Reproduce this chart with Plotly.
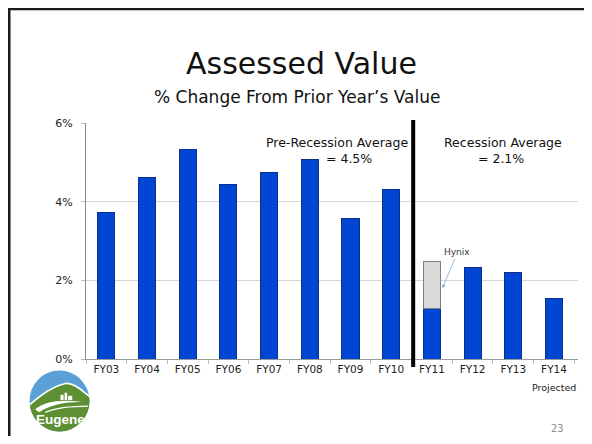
import base64
import plotly.graph_objects as go

# data
years = ["FY03", "FY04", "FY05", "FY06", "FY07", "FY08",
         "FY09", "FY10", "FY11", "FY12", "FY13", "FY14"]
pct_change = [3.73, 4.62, 5.33, 4.44, 4.73, 5.08, 3.58, 4.30, 1.28, 2.33, 2.20, 1.54]
hynix = [None, None, None, None, None, None, None, None, 1.20, None, None, None]
y_ticks = [0, 2, 4, 6]
y_tick_labels = ["0%", "2%", "4%", "6%"]

# the page body adds an 8px margin all round, so the figure sits 8px in from the window
OFF = 8
W, H = 592 - 2 * OFF, 444 - 2 * OFF
L, R, T, B = 86 - OFF, 14 - OFF, 123 - OFF, 85 - OFF
PW, PH = W - L - R, H - T - B


def px_x(p):
    # p is a pixel position in the 592x444 window
    return (p - OFF - L) / PW


def px_y(p):
    return (H - B - (p - OFF)) / PH


FONT = "DejaVu Sans"
BLUE = "#0046d2"

fig = go.Figure()

fig.add_trace(go.Bar(
    x=years, y=pct_change, name="Change",
    marker=dict(color=BLUE, line=dict(color="#0a2f8c", width=1)),
    width=0.42,
))
fig.add_trace(go.Bar(
    x=years, y=hynix, name="Hynix",
    marker=dict(color="#d9d9d9", line=dict(color="#7f7f7f", width=1)),
    width=0.42,
))

# recession divider
fig.add_shape(type="line", xref="x", yref="paper", x0=7.54, x1=7.54,
              y0=px_y(367), y1=px_y(120), line=dict(color="black", width=4))

# slide frame (left + top edges)
fig.add_shape(type="line", xref="paper", yref="paper", x0=px_x(9), x1=px_x(9),
              y0=px_y(8), y1=px_y(440), line=dict(color="#1a1a1a", width=3))
fig.add_shape(type="line", xref="paper", yref="paper", x0=px_x(8), x1=px_x(590),
              y0=px_y(9), y1=px_y(9), line=dict(color="#1a1a1a", width=2.5))

texts = [
    ("Assessed Value", 301, 63, 30, "#111111"),
    ("% Change From Prior Year\u2019s Value", 297, 97, 17, "#111111"),
    ("Pre-Recession Average", 336.5, 142, 12.5, "#111111"),
    ("= 4.5%", 349, 158, 12.5, "#111111"),
    ("Recession Average", 503, 142, 12.5, "#111111"),
    ("= 2.1%", 501, 158, 12.5, "#111111"),
    ("23", 557, 428, 10, "#8c8c8c"),
]
for txt, x, y, size, color in texts:
    fig.add_annotation(text=txt, xref="paper", yref="paper", x=px_x(x), y=px_y(y),
                       showarrow=False, xanchor="center", yanchor="middle",
                       font=dict(family=FONT, size=size, color=color))

fig.add_annotation(text="Projected", xref="x", yref="paper", x="FY14", y=px_y(387),
                   showarrow=False, yanchor="middle",
                   font=dict(family=FONT, size=9.5, color="#222222"))

fig.add_annotation(text="Hynix", xref="x", yref="y", x=8.26, y=1.80,
                   ax=15, ay=-36, showarrow=True, arrowhead=2, arrowsize=0.9,
                   arrowwidth=0.8, arrowcolor="#7ea6e0", standoff=0,
                   font=dict(family=FONT, size=9, color="#333333"))

# City of Eugene logo
logo_svg = """<svg xmlns='http://www.w3.org/2000/svg' viewBox='0 0 60 60'>
<defs><clipPath id='c'><circle cx='30' cy='30' r='29.5'/></clipPath></defs>
<g clip-path='url(#c)'>
<rect width='60' height='60' fill='#5a9fd6'/>
<path d='M0,34 C10,26 22,16 36,13 C44,12 52,20 60,26 L60,60 L0,60 Z' fill='#5e8f33'/>
<path d='M0,34 C10,26 22,16 36,13 C44,12 52,20 60,26' fill='none' stroke='#ffffff' stroke-width='1.6'/>
<path d='M6,38 C16,30 32,28 52,31 C34,31 20,34 10,41 Z' fill='#ffffff'/>
<path d='M16,41 C28,36 44,35 58,35' fill='none' stroke='#ffffff' stroke-width='1.1'/>
<rect x='31' y='24' width='3' height='5' fill='#ffffff'/>
<rect x='35' y='22' width='2.5' height='7' fill='#ffffff'/>
<rect x='38.5' y='25' width='4' height='4' fill='#ffffff'/>
</g></svg>"""
fig.add_layout_image(
    source="data:image/svg+xml;base64," + base64.b64encode(logo_svg.encode()).decode(),
    xref="paper", yref="paper", x=px_x(29), y=px_y(370),
    sizex=px_x(90) - px_x(29), sizey=px_y(370) - px_y(432),
    sizing="stretch", xanchor="left", yanchor="top", layer="below",
)
fig.add_annotation(text="<b>Eugene</b>", xref="paper", yref="paper",
                   x=px_x(60), y=px_y(419), showarrow=False,
                   xanchor="center", yanchor="middle",
                   font=dict(family="Liberation Sans", size=13.5, color="white"))

fig.update_layout(
    width=W, height=H, autosize=False,
    margin=dict(l=L, r=R, t=T, b=B),
    barmode="stack",
    showlegend=False,
    paper_bgcolor="white",
    plot_bgcolor="white",
    font=dict(family=FONT, color="#222222"),
)
fig.update_xaxes(
    showline=True, linecolor="#9a9a9a", linewidth=1,
    ticks="outside", tickson="boundaries", ticklen=4, tickcolor="#bdbdbd",
    tickfont=dict(family=FONT, size=10.5, color="#222222"),
    showgrid=False,
)
fig.update_yaxes(
    range=[0, 6], tickvals=y_ticks, ticktext=y_tick_labels,
    showline=True, linecolor="#8a8a8a", linewidth=1,
    ticks="outside", ticklen=4, tickcolor="#bdbdbd",
    showgrid=True, gridcolor="#d6d6d6", gridwidth=1,
    zeroline=False, ticklabelstandoff=6,
    tickfont=dict(family=FONT, size=11, color="#222222"),
)

fig.write_html("out.html")
